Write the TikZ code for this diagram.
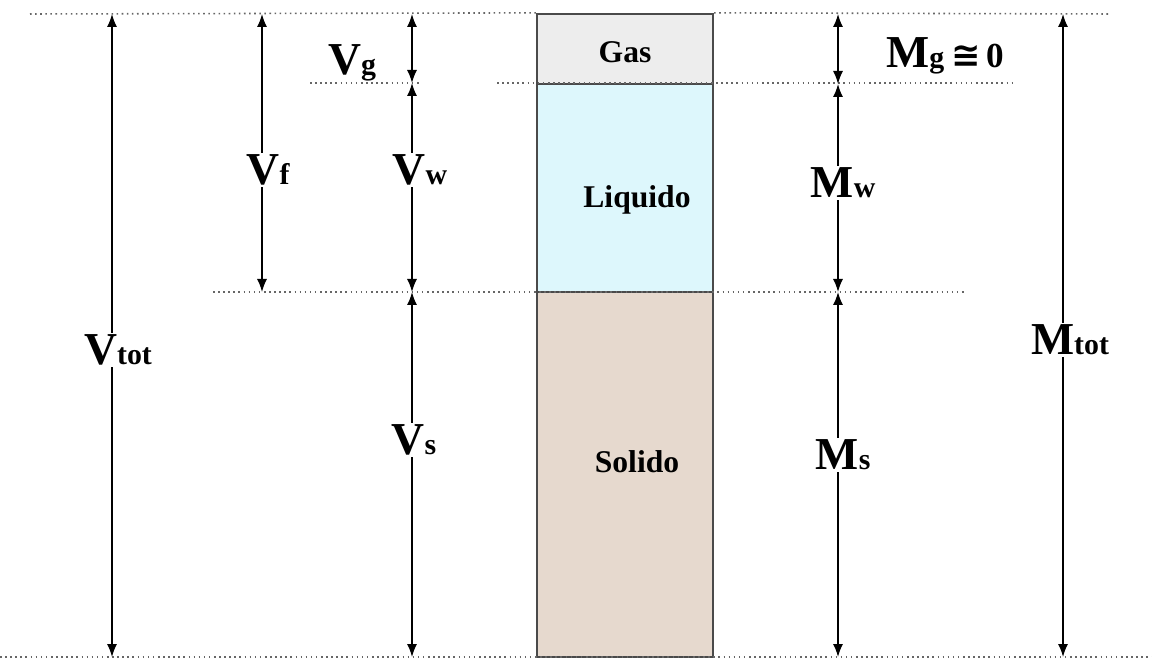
\documentclass[tikz,border=0pt]{standalone}
\usepackage{fontspec}
\setmainfont{Liberation Serif}
\newfontfamily\symfont{DejaVu Sans}
\usetikzlibrary{arrows.meta,positioning}

\definecolor{gascol}{HTML}{EDEDED}
\definecolor{liqcol}{HTML}{DDF7FC}
\definecolor{solcol}{HTML}{E6D9CE}
\definecolor{edgecol}{HTML}{4A4A4A}

% big letter with small subscript, same baseline
\newcommand{\qtylbl}[2]{{\fontsize{26}{28}\selectfont\bfseries #1\fontsize{17}{18}\selectfont #2}}

\tikzset{
  phase/.style={rectangle,draw=edgecol,line width=1.3pt,minimum width=3.52cm},
  phasename/.style={font=\fontsize{18}{20}\selectfont\bfseries,inner sep=1pt},
  guide/.style={gray!80!black,dotted,line width=0.9pt},
  dimline/.style={line width=0.8pt,{Latex[length=2.6mm,width=2mm]}-{Latex[length=2.6mm,width=2mm]}},
  tag/.style={fill=white,inner sep=1pt}
}

\begin{document}
\begin{tikzpicture}[x=0.02cm,y=-0.02cm]
    \useasboundingbox (0,0) rectangle (1152,661);

    % column of phases
    \node[phase,fill=gascol,minimum height=1.4cm] (gas) at (625,49) {};
    \node[phase,fill=liqcol,minimum height=4.16cm] (liq) at (625,188) {};
    \node[phase,fill=solcol,minimum height=7.3cm] (sol) at (625,474.5) {};
    \node[phasename] (gastxt) at (625,52) {Gas};
    \node[phasename] (liqtxt) at (637,200) {Liquido};
    \node[phasename] (soltxt) at (637,462) {Solido};

    % level lines
    \draw[guide] (30,14) -- (gas.north west);
    \draw[guide] (gas.north east) -- (1110,14);
    \draw[guide] (310,83) -- (420,83);
    \draw[guide] (497,83) -- (1013,83);
    \draw[guide] (213,292) -- (965,292);
    \draw[guide] (0,657) -- (1152,657);

    % end points of the arrows
    \coordinate (vtotA) at (112,14);  \coordinate (vtotB) at (112,657);
    \coordinate (vfA)   at (262,14);  \coordinate (vfB)   at (262,292);
    \coordinate (vgA)   at (412,14);  \coordinate (vgB)   at (412,83);
    \coordinate (vwA)   at (412,83);  \coordinate (vwB)   at (412,292);
    \coordinate (vsA)   at (412,292); \coordinate (vsB)   at (412,657);
    \coordinate (mgA)   at (838,14);  \coordinate (mgB)   at (838,84);
    \coordinate (mwA)   at (838,84);  \coordinate (mwB)   at (838,292);
    \coordinate (msA)   at (838,292); \coordinate (msB)   at (838,657);
    \coordinate (mtotA) at (1063,14); \coordinate (mtotB) at (1063,657);

    \draw[dimline] (vtotA) -- (vtotB);
    \draw[dimline] (vfA) -- (vfB);
    \draw[dimline] (vgA) -- (vgB);
    \draw[dimline] (vwA) -- (vwB);
    \draw[dimline] (vsA) -- (vsB);
    \draw[dimline] (mgA) -- (mgB);
    \draw[dimline] (mwA) -- (mwB);
    \draw[dimline] (msA) -- (msB);
    \draw[dimline] (mtotA) -- (mtotB);

    % labels
    \node[tag] (vtot) at (118,350) {\qtylbl{V}{tot}};
    \node[tag] (vf)   at (268,170) {\qtylbl{V}{f}};
    \node[inner sep=1pt] (vg) at (352,63) {\qtylbl{V}{g}};
    \node[tag] (vw)   at (420,170) {\qtylbl{V}{w}};
    \node[tag] (vs)   at (414,440) {\qtylbl{V}{s}};
    \node[inner sep=1pt] (mg) at (945,56) {\qtylbl{M}{g}\hspace{4pt}{\fontsize{20}{22}\selectfont\bfseries{\symfont ≅}\hspace{3pt}0}};
    \node[tag] (mw)   at (843,183) {\qtylbl{M}{w}};
    \node[tag] (ms)   at (843,455) {\qtylbl{M}{s}};
    \node[tag] (mtot) at (1070,340) {\qtylbl{M}{tot}};
\end{tikzpicture}
\end{document}
